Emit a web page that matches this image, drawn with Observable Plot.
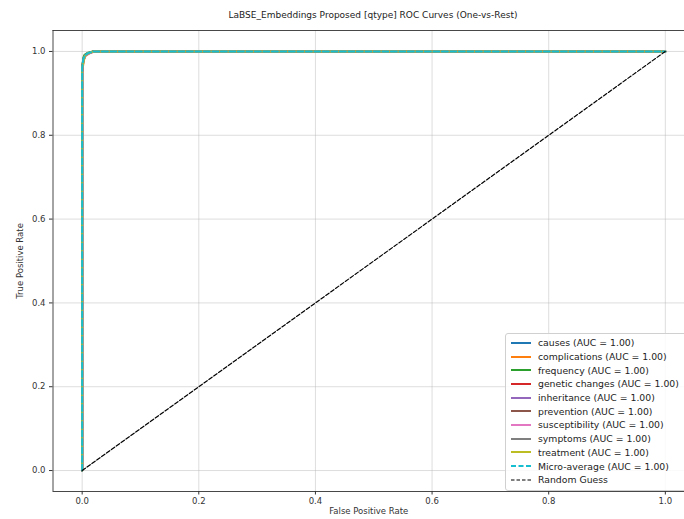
<!DOCTYPE html>
<html>
<head>
<meta charset="utf-8">
<script src="https://cdn.jsdelivr.net/npm/d3@7"></script>
<script src="https://cdn.jsdelivr.net/npm/@observablehq/plot@0.6"></script>
<style>
  html, body { margin: 0; padding: 0; background: #fff; }
  body { width: 684px; height: 519px; overflow: hidden; position: relative; font-family: "DejaVu Sans", sans-serif; }
  #title { height: 26px; text-align: center; font-size: 9px; color: #222; padding-left: 62px; box-sizing: border-box; width: 684px; white-space: nowrap; padding-top: 4px; line-height: 22px;}
  #legend { position: absolute; left: 505px; top: 333px; width: 200px; border: 1px solid #d0d0d0; border-radius: 3px; background: rgba(255,255,255,0.85); padding: 2px 0 3px 0; font-size: 9.3px; color: #222; }
  .row { display: flex; align-items: center; height: 13.7px; white-space: nowrap; }
  .row svg { margin-left: 4px; margin-right: 6px; }
</style>
</head>
<body>
<div id="title"></div>
<div id="chart"></div>
<div id="legend"></div>
<script>
const titleText = "LaBSE_Embeddings Proposed [qtype] ROC Curves (One-vs-Rest)";
const classes = ["causes", "complications", "frequency", "genetic changes", "inheritance", "prevention", "susceptibility", "symptoms", "treatment"];
const classColors = ["#1f77b4", "#ff7f0e", "#2ca02c", "#d62728", "#9467bd", "#8c564b", "#e377c2", "#7f7f7f", "#bcbd22"];
const aucs = [1.00, 1.00, 1.00, 1.00, 1.00, 1.00, 1.00, 1.00, 1.00];
const microAuc = 1.00;
const microColor = "#17becf";
// ROC points per class (fpr, tpr)
const classFpr = [
  [0, 0, 0.002, 0.005, 0.01, 0.02, 1],
  [0, 0, 0.003, 0.006, 0.012, 0.02, 1],
  [0, 0, 0.002, 0.004, 0.01, 0.018, 1],
  [0, 0, 0.002, 0.005, 0.01, 0.02, 1],
  [0, 0, 0.003, 0.005, 0.011, 0.02, 1],
  [0, 0, 0.002, 0.005, 0.01, 0.02, 1],
  [0, 0, 0.002, 0.006, 0.01, 0.022, 1],
  [0, 0, 0.002, 0.005, 0.01, 0.02, 1],
  [0, 0, 0.003, 0.005, 0.01, 0.02, 1]
];
const classTpr = [
  [0, 0.96, 0.98, 0.99, 0.996, 1, 1],
  [0, 0.95, 0.98, 0.99, 0.995, 1, 1],
  [0, 0.96, 0.985, 0.992, 0.997, 1, 1],
  [0, 0.95, 0.98, 0.99, 0.996, 1, 1],
  [0, 0.96, 0.98, 0.99, 0.995, 1, 1],
  [0, 0.96, 0.982, 0.991, 0.996, 1, 1],
  [0, 0.95, 0.98, 0.99, 0.995, 1, 1],
  [0, 0.96, 0.98, 0.99, 0.996, 1, 1],
  [0, 0.96, 0.98, 0.99, 0.996, 1, 1]
];
const microFpr = [0, 0, 0.002, 0.005, 0.01, 0.02, 1];
const microTpr = [0, 0.96, 0.982, 0.991, 0.996, 1, 1];
const randomX = [0, 1];
const randomY = [0, 1];
const ticks = [0, 0.2, 0.4, 0.6, 0.8, 1.0];
const limits = [-0.05, 1.05];

document.getElementById("title").textContent = titleText;

const classRows = [];
classes.forEach((c, i) => classFpr[i].forEach((f, j) => classRows.push({cls: c, fpr: f, tpr: classTpr[i][j]})));
const microRows = microFpr.map((f, j) => ({fpr: f, tpr: microTpr[j]}));
const randomRows = randomX.map((x, j) => ({fpr: x, tpr: randomY[j]}));

const chart = Plot.plot({
  width: 684,
  height: 493,
  marginTop: 4,
  marginBottom: 28,
  marginLeft: 52.5,
  marginRight: 0,
  style: {fontFamily: "DejaVu Sans, sans-serif", fontSize: "8.5px", color: "#222", background: "transparent"},
  x: {domain: limits, range: [52.5, 694], ticks: ticks, tickFormat: ".1f", label: null},
  y: {domain: limits, range: [465, 4], ticks: ticks, tickFormat: ".1f", label: null},
  color: {domain: classes, range: classColors},
  marks: [
    Plot.gridX(ticks, {stroke: "#b0b0b0", strokeOpacity: 0.55, strokeWidth: 0.8}),
    Plot.gridY(ticks, {stroke: "#b0b0b0", strokeOpacity: 0.55, strokeWidth: 0.8}),
    Plot.line(classRows, {x: "fpr", y: "tpr", z: "cls", stroke: "cls", strokeWidth: 2, curve: "linear"}),
    Plot.line(microRows, {x: "fpr", y: "tpr", stroke: microColor, strokeWidth: 2, strokeDasharray: "6,2.5"}),
    Plot.line(randomRows, {x: "fpr", y: "tpr", stroke: "#000", strokeWidth: 1.2, strokeDasharray: "4,2"}),
    Plot.ruleY(limits, {stroke: "#333", strokeWidth: 0.9}),
    Plot.ruleX(limits, {stroke: "#333", strokeWidth: 0.9}),
    Plot.axisX(ticks, {tickSize: 3.5, tickPadding: 3, stroke: "#333", fill: "#333", fontSize: 8.5, tickFormat: ".1f", label: "False Positive Rate", labelAnchor: "center", labelArrow: "none", labelOffset: 22}),
    Plot.axisY(ticks, {tickSize: 3.5, tickPadding: 4, stroke: "#333", fill: "#333", fontSize: 8.5, tickFormat: ".1f", label: "True Positive Rate", labelAnchor: "center", labelArrow: "none", labelOffset: 36})
  ]
});
document.getElementById("chart").appendChild(chart);

// Legend
const legend = document.getElementById("legend");
const entries = classes.map((c, i) => ({label: `${c} (AUC = ${aucs[i].toFixed(2)})`, color: classColors[i], dash: null, w: 2}));
entries.push({label: `Micro-average (AUC = ${microAuc.toFixed(2)})`, color: microColor, dash: "5,2.5", w: 2});
entries.push({label: "Random Guess", color: "#000", dash: "3.5,2", w: 1.2});
for (const e of entries) {
  const row = document.createElement("div");
  row.className = "row";
  row.innerHTML = `<svg width="22" height="6"><line x1="1" x2="21" y1="3" y2="3" stroke="${e.color}" stroke-width="${e.w}" ${e.dash ? `stroke-dasharray="${e.dash}"` : ""}/></svg><span>${e.label}</span>`;
  legend.appendChild(row);
}
</script>
</body>
</html>
